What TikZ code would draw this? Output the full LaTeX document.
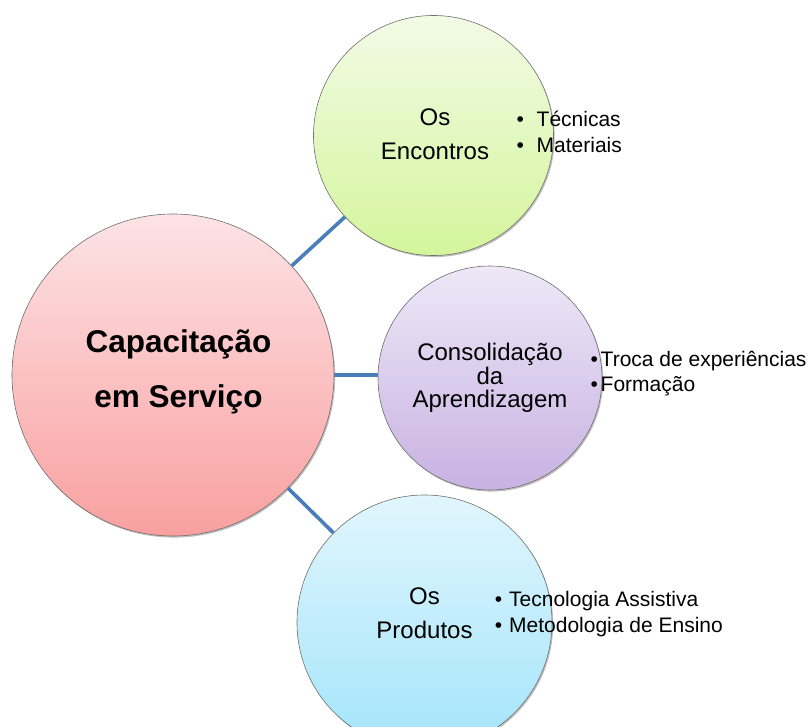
\documentclass[tikz,border=0pt]{standalone}
\usepackage{fontspec}
\setmainfont{Liberation Sans}
\usetikzlibrary{shadows}
\definecolor{linkblue}{HTML}{4A7EBB}
\definecolor{redtop}{HTML}{FDE3E5}
\definecolor{redbot}{HTML}{F9A0A0}
\definecolor{greentop}{HTML}{F2FBE6}
\definecolor{greenbot}{HTML}{D4F59C}
\definecolor{purptop}{HTML}{EEE8F7}
\definecolor{purpbot}{HTML}{C8B2E2}
\definecolor{bluetop}{HTML}{E1F6FD}
\definecolor{bluebot}{HTML}{A3E4FA}
\definecolor{rimgray}{HTML}{6F6F6F}
\newcommand{\mybul}[2]{\makebox[#1][l]{•}#2}
\tikzset{
  bubble/.style={circle, draw=rimgray, line width=0.6pt, inner sep=0pt,
    drop shadow={shadow xshift=1.2pt, shadow yshift=-1.6pt, opacity=0.25, fill=black}},
  link/.style={draw=linkblue, line width=3.6pt},
  lbl/.style={inner sep=0pt, anchor=base},
  bullets/.style={inner sep=0pt, anchor=base west}
}
\begin{document}
\begin{tikzpicture}[x=1pt,y=1pt]
\useasboundingbox (0,0) rectangle (809,726);
\clip (0,0) rectangle (809,726);
% circles
\node[bubble, minimum size=322pt, top color=redtop, bottom color=redbot] (core) at (173,351) {};
\node[bubble, minimum size=240pt, top color=greentop, bottom color=greenbot] (enc) at (433.5,590.5) {};
\node[bubble, minimum size=224pt, top color=purptop, bottom color=purpbot] (cons) at (490,348) {};
\node[bubble, minimum size=255pt, top color=bluetop, bottom color=bluebot] (prod) at (424.5,103.5) {};
% connectors
\draw[link] (core) -- (enc);
\draw[link] (core.east) -- (cons.west |- core.east);
\draw[link] (core) -- (prod);
% labels
\node[lbl] (coretxt) at (178.5,373.5) {\parbox[t]{260pt}{\centering\fontsize{31.5}{55}\selectfont\bfseries Capacitação\\em Serviço}};
\node[lbl] (enctxt) at (435,600.5) {\parbox[t]{220pt}{\centering\fontsize{24}{34}\selectfont Os\\Encontros}};
\node[lbl] (constxt) at (490,365) {\parbox[t]{220pt}{\centering\fontsize{24}{23.5}\selectfont Consolidação\\da\\Aprendizagem}};
\node[lbl] (prodtxt) at (424.5,121) {\parbox[t]{220pt}{\centering\fontsize{24}{33.5}\selectfont Os\\Produtos}};
% bullet lists
\node[bullets] (encl) at (516.3,599) {\parbox[t]{280pt}{\raggedright\fontsize{21}{26}\selectfont \mybul{20.2pt}{Técnicas}\\\mybul{20.2pt}{Materiais}}};
\node[bullets] (consl) at (590.3,359) {\parbox[t]{280pt}{\raggedright\fontsize{21}{25}\selectfont \mybul{10.2pt}{Troca de experiências}\\\mybul{10.2pt}{Formação}}};
\node[bullets] (prodl) at (494.6,119) {\parbox[t]{280pt}{\raggedright\fontsize{21}{26}\selectfont \mybul{14.4pt}{Tecnologia Assistiva}\\\mybul{14.4pt}{Metodologia de Ensino}}};
\end{tikzpicture}
\end{document}
